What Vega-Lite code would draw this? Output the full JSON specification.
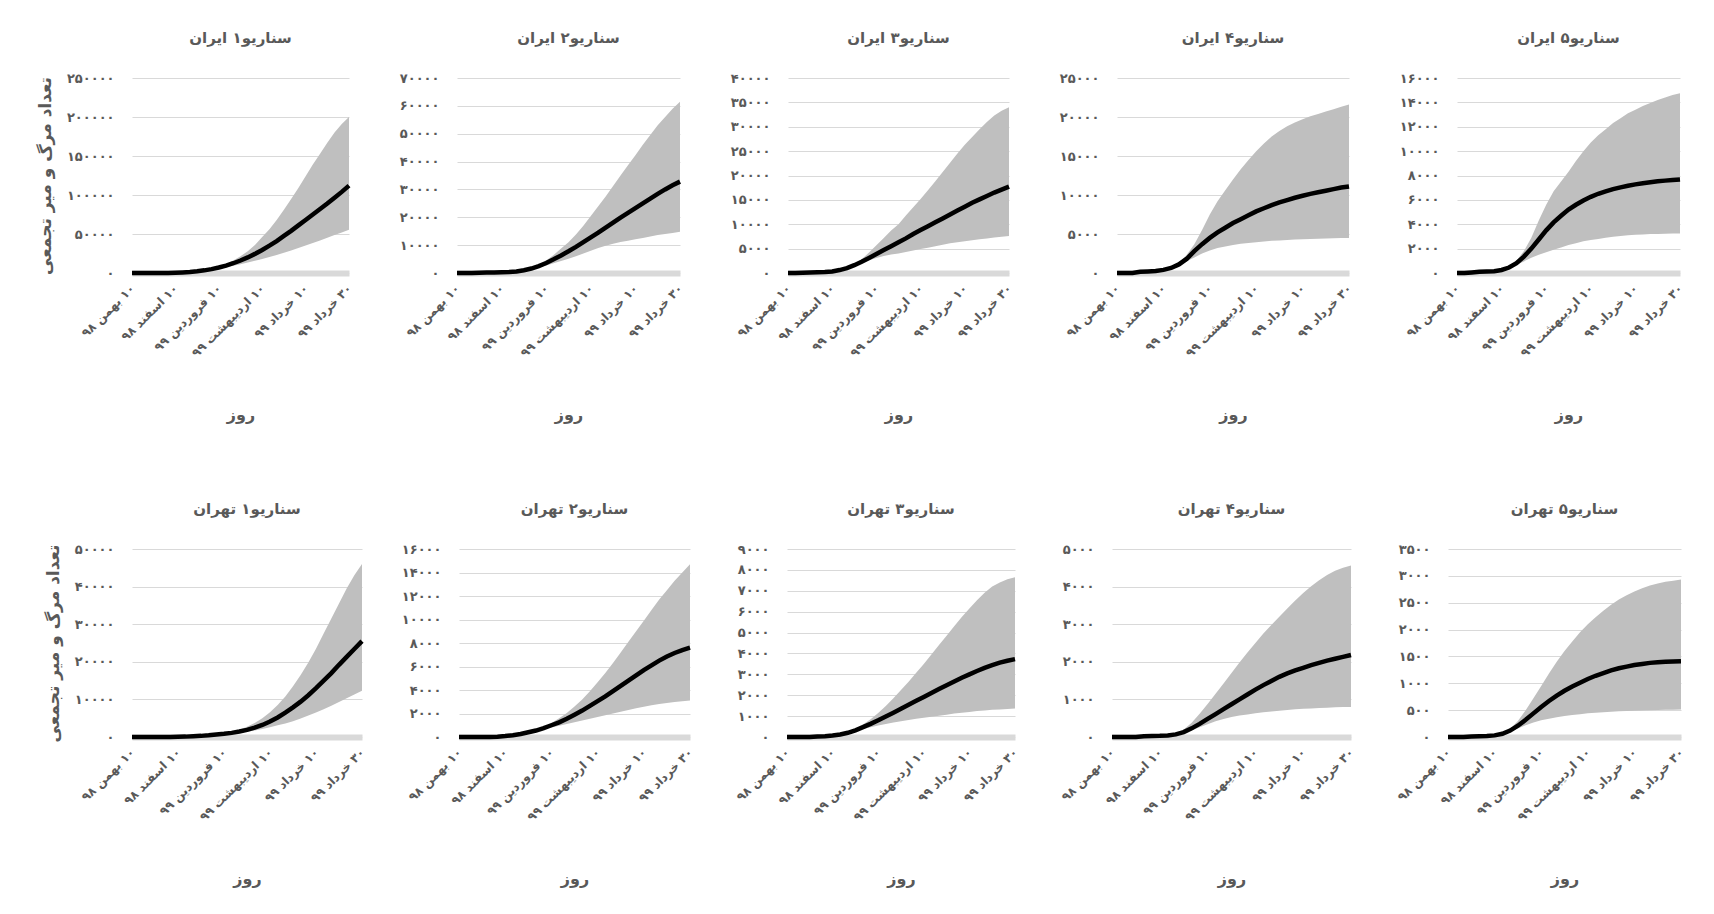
{
"$schema": "https://vega.github.io/schema/vega-lite/v6.json",
"background": "white",
"padding": {"left": 36, "top": 31, "right": 5, "bottom": 5},
"datasets": {"t": [
{"s":"A1","d":0,"m":0,"l":0,"h":0},{"s":"A1","d":5,"m":0,"l":0,"h":0},{"s":"A1","d":10,"m":0,"l":0,"h":0},{"s":"A1","d":15,"m":0,"l":0,"h":0},{"s":"A1","d":20,"m":0,"l":0,"h":0},{"s":"A1","d":25,"m":100,"l":100,"h":100},{"s":"A1","d":30,"m":300,"l":300,"h":320},{"s":"A1","d":35,"m":700,"l":680,"h":740},{"s":"A1","d":40,"m":1300,"l":1200,"h":1400},{"s":"A1","d":45,"m":2200,"l":2000,"h":2400},{"s":"A1","d":50,"m":3400,"l":3000,"h":3700},{"s":"A1","d":55,"m":5000,"l":4300,"h":5500},{"s":"A1","d":60,"m":7000,"l":5800,"h":8000},{"s":"A1","d":65,"m":9500,"l":7500,"h":11500},{"s":"A1","d":70,"m":12500,"l":9300,"h":16000},{"s":"A1","d":75,"m":16000,"l":11300,"h":21500},{"s":"A1","d":80,"m":20000,"l":13400,"h":28000},{"s":"A1","d":85,"m":24500,"l":15600,"h":36000},{"s":"A1","d":90,"m":29500,"l":18000,"h":46000},{"s":"A1","d":95,"m":35000,"l":20500,"h":56000},{"s":"A1","d":100,"m":41000,"l":23200,"h":68000},{"s":"A1","d":105,"m":47500,"l":26000,"h":81000},{"s":"A1","d":110,"m":54000,"l":29000,"h":95000},{"s":"A1","d":115,"m":61000,"l":32000,"h":109000},{"s":"A1","d":120,"m":68000,"l":35200,"h":124000},{"s":"A1","d":125,"m":75000,"l":38500,"h":139000},{"s":"A1","d":130,"m":82000,"l":41800,"h":153000},{"s":"A1","d":135,"m":89000,"l":45200,"h":167000},{"s":"A1","d":140,"m":96500,"l":48600,"h":180000},{"s":"A1","d":145,"m":104000,"l":52000,"h":191000},{"s":"A1","d":150,"m":112000,"l":55500,"h":200000},
{"s":"A2","d":0,"m":0,"l":0,"h":0},{"s":"A2","d":5,"m":0,"l":0,"h":0},{"s":"A2","d":10,"m":0,"l":0,"h":0},{"s":"A2","d":15,"m":100,"l":100,"h":100},{"s":"A2","d":20,"m":150,"l":150,"h":150},{"s":"A2","d":25,"m":200,"l":200,"h":200},{"s":"A2","d":30,"m":250,"l":250,"h":250},{"s":"A2","d":35,"m":350,"l":340,"h":360},{"s":"A2","d":40,"m":550,"l":520,"h":600},{"s":"A2","d":45,"m":1000,"l":900,"h":1100},{"s":"A2","d":50,"m":1600,"l":1400,"h":1900},{"s":"A2","d":55,"m":2500,"l":2000,"h":3000},{"s":"A2","d":60,"m":3600,"l":2700,"h":4500},{"s":"A2","d":65,"m":4900,"l":3500,"h":6500},{"s":"A2","d":70,"m":6300,"l":4300,"h":8800},{"s":"A2","d":75,"m":7800,"l":5100,"h":11000},{"s":"A2","d":80,"m":9400,"l":6000,"h":13800},{"s":"A2","d":85,"m":11100,"l":7000,"h":17000},{"s":"A2","d":90,"m":12800,"l":8000,"h":20500},{"s":"A2","d":95,"m":14500,"l":9000,"h":24000},{"s":"A2","d":100,"m":16300,"l":9800,"h":27500},{"s":"A2","d":105,"m":18100,"l":10500,"h":31200},{"s":"A2","d":110,"m":19900,"l":11100,"h":35000},{"s":"A2","d":115,"m":21600,"l":11600,"h":38700},{"s":"A2","d":120,"m":23300,"l":12100,"h":42300},{"s":"A2","d":125,"m":25000,"l":12600,"h":46000},{"s":"A2","d":130,"m":26700,"l":13100,"h":49500},{"s":"A2","d":135,"m":28400,"l":13600,"h":53000},{"s":"A2","d":140,"m":30000,"l":14000,"h":56000},{"s":"A2","d":145,"m":31500,"l":14400,"h":59000},{"s":"A2","d":150,"m":32800,"l":14800,"h":61500},
{"s":"A3","d":0,"m":0,"l":0,"h":0},{"s":"A3","d":5,"m":0,"l":0,"h":0},{"s":"A3","d":10,"m":50,"l":50,"h":50},{"s":"A3","d":15,"m":100,"l":100,"h":100},{"s":"A3","d":20,"m":150,"l":150,"h":150},{"s":"A3","d":25,"m":200,"l":200,"h":200},{"s":"A3","d":30,"m":300,"l":300,"h":300},{"s":"A3","d":35,"m":600,"l":580,"h":620},{"s":"A3","d":40,"m":1000,"l":900,"h":1100},{"s":"A3","d":45,"m":1600,"l":1300,"h":1800},{"s":"A3","d":50,"m":2300,"l":2000,"h":2800},{"s":"A3","d":55,"m":3100,"l":2600,"h":4200},{"s":"A3","d":60,"m":3900,"l":3100,"h":5700},{"s":"A3","d":65,"m":4700,"l":3500,"h":7200},{"s":"A3","d":70,"m":5500,"l":3800,"h":8700},{"s":"A3","d":75,"m":6300,"l":4000,"h":10000},{"s":"A3","d":80,"m":7100,"l":4300,"h":11800},{"s":"A3","d":85,"m":8000,"l":4600,"h":13500},{"s":"A3","d":90,"m":8800,"l":4900,"h":15200},{"s":"A3","d":95,"m":9600,"l":5200,"h":17000},{"s":"A3","d":100,"m":10400,"l":5500,"h":18800},{"s":"A3","d":105,"m":11200,"l":5800,"h":20700},{"s":"A3","d":110,"m":12000,"l":6100,"h":22600},{"s":"A3","d":115,"m":12800,"l":6300,"h":24500},{"s":"A3","d":120,"m":13600,"l":6500,"h":26300},{"s":"A3","d":125,"m":14400,"l":6700,"h":27900},{"s":"A3","d":130,"m":15100,"l":6900,"h":29500},{"s":"A3","d":135,"m":15800,"l":7100,"h":31000},{"s":"A3","d":140,"m":16500,"l":7300,"h":32300},{"s":"A3","d":145,"m":17100,"l":7450,"h":33300},{"s":"A3","d":150,"m":17700,"l":7600,"h":34000},
{"s":"A4","d":0,"m":0,"l":0,"h":0},{"s":"A4","d":5,"m":0,"l":0,"h":0},{"s":"A4","d":10,"m":0,"l":0,"h":0},{"s":"A4","d":15,"m":150,"l":150,"h":150},{"s":"A4","d":20,"m":200,"l":200,"h":200},{"s":"A4","d":25,"m":250,"l":250,"h":250},{"s":"A4","d":30,"m":400,"l":400,"h":400},{"s":"A4","d":35,"m":650,"l":620,"h":700},{"s":"A4","d":40,"m":1100,"l":1000,"h":1300},{"s":"A4","d":45,"m":1800,"l":1500,"h":2300},{"s":"A4","d":50,"m":2800,"l":2000,"h":3700},{"s":"A4","d":55,"m":3700,"l":2500,"h":5500},{"s":"A4","d":60,"m":4500,"l":2900,"h":7500},{"s":"A4","d":65,"m":5200,"l":3200,"h":9200},{"s":"A4","d":70,"m":5800,"l":3400,"h":10600},{"s":"A4","d":75,"m":6400,"l":3600,"h":12000},{"s":"A4","d":80,"m":6900,"l":3750,"h":13300},{"s":"A4","d":85,"m":7400,"l":3850,"h":14500},{"s":"A4","d":90,"m":7900,"l":3950,"h":15600},{"s":"A4","d":95,"m":8300,"l":4050,"h":16600},{"s":"A4","d":100,"m":8700,"l":4120,"h":17500},{"s":"A4","d":105,"m":9050,"l":4180,"h":18200},{"s":"A4","d":110,"m":9350,"l":4240,"h":18800},{"s":"A4","d":115,"m":9650,"l":4290,"h":19300},{"s":"A4","d":120,"m":9900,"l":4330,"h":19700},{"s":"A4","d":125,"m":10150,"l":4370,"h":20100},{"s":"A4","d":130,"m":10350,"l":4400,"h":20400},{"s":"A4","d":135,"m":10550,"l":4430,"h":20700},{"s":"A4","d":140,"m":10750,"l":4460,"h":21000},{"s":"A4","d":145,"m":10950,"l":4480,"h":21300},{"s":"A4","d":150,"m":11100,"l":4500,"h":21600},
{"s":"A5","d":0,"m":0,"l":0,"h":0},{"s":"A5","d":5,"m":0,"l":0,"h":0},{"s":"A5","d":10,"m":50,"l":50,"h":50},{"s":"A5","d":15,"m":100,"l":100,"h":100},{"s":"A5","d":20,"m":120,"l":120,"h":120},{"s":"A5","d":25,"m":150,"l":150,"h":150},{"s":"A5","d":30,"m":250,"l":250,"h":250},{"s":"A5","d":35,"m":450,"l":400,"h":500},{"s":"A5","d":40,"m":800,"l":650,"h":1000},{"s":"A5","d":45,"m":1350,"l":950,"h":1800},{"s":"A5","d":50,"m":2000,"l":1250,"h":2900},{"s":"A5","d":55,"m":2750,"l":1500,"h":4300},{"s":"A5","d":60,"m":3500,"l":1700,"h":5600},{"s":"A5","d":65,"m":4150,"l":1900,"h":6700},{"s":"A5","d":70,"m":4700,"l":2100,"h":7500},{"s":"A5","d":75,"m":5200,"l":2300,"h":8300},{"s":"A5","d":80,"m":5600,"l":2450,"h":9200},{"s":"A5","d":85,"m":5950,"l":2600,"h":10000},{"s":"A5","d":90,"m":6250,"l":2700,"h":10700},{"s":"A5","d":95,"m":6500,"l":2800,"h":11300},{"s":"A5","d":100,"m":6700,"l":2900,"h":11800},{"s":"A5","d":105,"m":6880,"l":2980,"h":12300},{"s":"A5","d":110,"m":7030,"l":3040,"h":12700},{"s":"A5","d":115,"m":7160,"l":3090,"h":13100},{"s":"A5","d":120,"m":7270,"l":3130,"h":13400},{"s":"A5","d":125,"m":7370,"l":3160,"h":13700},{"s":"A5","d":130,"m":7450,"l":3190,"h":13950},{"s":"A5","d":135,"m":7520,"l":3210,"h":14200},{"s":"A5","d":140,"m":7580,"l":3230,"h":14400},{"s":"A5","d":145,"m":7630,"l":3240,"h":14600},{"s":"A5","d":150,"m":7680,"l":3250,"h":14750},
{"s":"T1","d":0,"m":0,"l":0,"h":0},{"s":"T1","d":5,"m":0,"l":0,"h":0},{"s":"T1","d":10,"m":0,"l":0,"h":0},{"s":"T1","d":15,"m":0,"l":0,"h":0},{"s":"T1","d":20,"m":0,"l":0,"h":0},{"s":"T1","d":25,"m":0,"l":0,"h":0},{"s":"T1","d":30,"m":50,"l":50,"h":55},{"s":"T1","d":35,"m":100,"l":100,"h":110},{"s":"T1","d":40,"m":200,"l":190,"h":220},{"s":"T1","d":45,"m":300,"l":280,"h":330},{"s":"T1","d":50,"m":450,"l":420,"h":500},{"s":"T1","d":55,"m":650,"l":600,"h":720},{"s":"T1","d":60,"m":850,"l":780,"h":950},{"s":"T1","d":65,"m":1100,"l":900,"h":1300},{"s":"T1","d":70,"m":1450,"l":1100,"h":1900},{"s":"T1","d":75,"m":1900,"l":1400,"h":2700},{"s":"T1","d":80,"m":2500,"l":1700,"h":3700},{"s":"T1","d":85,"m":3200,"l":2100,"h":5000},{"s":"T1","d":90,"m":4100,"l":2600,"h":6600},{"s":"T1","d":95,"m":5200,"l":3100,"h":8500},{"s":"T1","d":100,"m":6500,"l":3600,"h":10800},{"s":"T1","d":105,"m":7900,"l":4200,"h":13500},{"s":"T1","d":110,"m":9400,"l":4900,"h":16500},{"s":"T1","d":115,"m":11100,"l":5700,"h":19800},{"s":"T1","d":120,"m":13000,"l":6500,"h":23500},{"s":"T1","d":125,"m":15000,"l":7400,"h":27500},{"s":"T1","d":130,"m":17000,"l":8300,"h":31500},{"s":"T1","d":135,"m":19200,"l":9300,"h":35500},{"s":"T1","d":140,"m":21300,"l":10300,"h":39500},{"s":"T1","d":145,"m":23400,"l":11300,"h":43000},{"s":"T1","d":150,"m":25500,"l":12300,"h":46000},
{"s":"T2","d":0,"m":0,"l":0,"h":0},{"s":"T2","d":5,"m":0,"l":0,"h":0},{"s":"T2","d":10,"m":0,"l":0,"h":0},{"s":"T2","d":15,"m":0,"l":0,"h":0},{"s":"T2","d":20,"m":0,"l":0,"h":0},{"s":"T2","d":25,"m":30,"l":30,"h":30},{"s":"T2","d":30,"m":80,"l":80,"h":80},{"s":"T2","d":35,"m":150,"l":150,"h":150},{"s":"T2","d":40,"m":250,"l":240,"h":260},{"s":"T2","d":45,"m":400,"l":380,"h":430},{"s":"T2","d":50,"m":550,"l":500,"h":620},{"s":"T2","d":55,"m":750,"l":650,"h":850},{"s":"T2","d":60,"m":1000,"l":800,"h":1200},{"s":"T2","d":65,"m":1250,"l":950,"h":1600},{"s":"T2","d":70,"m":1550,"l":1100,"h":2050},{"s":"T2","d":75,"m":1900,"l":1250,"h":2600},{"s":"T2","d":80,"m":2250,"l":1400,"h":3200},{"s":"T2","d":85,"m":2650,"l":1550,"h":3900},{"s":"T2","d":90,"m":3050,"l":1700,"h":4650},{"s":"T2","d":95,"m":3450,"l":1850,"h":5450},{"s":"T2","d":100,"m":3900,"l":2000,"h":6300},{"s":"T2","d":105,"m":4350,"l":2150,"h":7200},{"s":"T2","d":110,"m":4800,"l":2300,"h":8100},{"s":"T2","d":115,"m":5250,"l":2450,"h":9000},{"s":"T2","d":120,"m":5700,"l":2580,"h":9900},{"s":"T2","d":125,"m":6100,"l":2700,"h":10800},{"s":"T2","d":130,"m":6500,"l":2800,"h":11700},{"s":"T2","d":135,"m":6850,"l":2900,"h":12500},{"s":"T2","d":140,"m":7150,"l":2980,"h":13300},{"s":"T2","d":145,"m":7400,"l":3050,"h":14000},{"s":"T2","d":150,"m":7600,"l":3100,"h":14700},
{"s":"T3","d":0,"m":0,"l":0,"h":0},{"s":"T3","d":5,"m":0,"l":0,"h":0},{"s":"T3","d":10,"m":0,"l":0,"h":0},{"s":"T3","d":15,"m":0,"l":0,"h":0},{"s":"T3","d":20,"m":20,"l":20,"h":20},{"s":"T3","d":25,"m":40,"l":40,"h":40},{"s":"T3","d":30,"m":70,"l":70,"h":70},{"s":"T3","d":35,"m":120,"l":115,"h":125},{"s":"T3","d":40,"m":200,"l":180,"h":230},{"s":"T3","d":45,"m":320,"l":280,"h":380},{"s":"T3","d":50,"m":470,"l":380,"h":600},{"s":"T3","d":55,"m":630,"l":470,"h":850},{"s":"T3","d":60,"m":800,"l":550,"h":1150},{"s":"T3","d":65,"m":980,"l":620,"h":1480},{"s":"T3","d":70,"m":1160,"l":690,"h":1850},{"s":"T3","d":75,"m":1350,"l":750,"h":2250},{"s":"T3","d":80,"m":1540,"l":810,"h":2650},{"s":"T3","d":85,"m":1730,"l":870,"h":3070},{"s":"T3","d":90,"m":1920,"l":920,"h":3500},{"s":"T3","d":95,"m":2110,"l":970,"h":3950},{"s":"T3","d":100,"m":2300,"l":1020,"h":4400},{"s":"T3","d":105,"m":2480,"l":1070,"h":4850},{"s":"T3","d":110,"m":2660,"l":1120,"h":5300},{"s":"T3","d":115,"m":2840,"l":1160,"h":5750},{"s":"T3","d":120,"m":3000,"l":1200,"h":6150},{"s":"T3","d":125,"m":3160,"l":1240,"h":6550},{"s":"T3","d":130,"m":3310,"l":1270,"h":6900},{"s":"T3","d":135,"m":3440,"l":1300,"h":7200},{"s":"T3","d":140,"m":3560,"l":1320,"h":7400},{"s":"T3","d":145,"m":3650,"l":1340,"h":7550},{"s":"T3","d":150,"m":3730,"l":1360,"h":7650},
{"s":"T4","d":0,"m":0,"l":0,"h":0},{"s":"T4","d":5,"m":0,"l":0,"h":0},{"s":"T4","d":10,"m":0,"l":0,"h":0},{"s":"T4","d":15,"m":0,"l":0,"h":0},{"s":"T4","d":20,"m":20,"l":20,"h":20},{"s":"T4","d":25,"m":25,"l":25,"h":25},{"s":"T4","d":30,"m":30,"l":30,"h":30},{"s":"T4","d":35,"m":40,"l":40,"h":40},{"s":"T4","d":40,"m":70,"l":65,"h":80},{"s":"T4","d":45,"m":130,"l":110,"h":200},{"s":"T4","d":50,"m":230,"l":180,"h":380},{"s":"T4","d":55,"m":350,"l":260,"h":620},{"s":"T4","d":60,"m":480,"l":340,"h":880},{"s":"T4","d":65,"m":610,"l":420,"h":1150},{"s":"T4","d":70,"m":740,"l":480,"h":1420},{"s":"T4","d":75,"m":870,"l":530,"h":1700},{"s":"T4","d":80,"m":1000,"l":570,"h":1980},{"s":"T4","d":85,"m":1130,"l":600,"h":2250},{"s":"T4","d":90,"m":1260,"l":630,"h":2500},{"s":"T4","d":95,"m":1380,"l":660,"h":2750},{"s":"T4","d":100,"m":1490,"l":680,"h":2980},{"s":"T4","d":105,"m":1600,"l":700,"h":3200},{"s":"T4","d":110,"m":1690,"l":720,"h":3420},{"s":"T4","d":115,"m":1770,"l":735,"h":3630},{"s":"T4","d":120,"m":1840,"l":750,"h":3830},{"s":"T4","d":125,"m":1910,"l":760,"h":4010},{"s":"T4","d":130,"m":1970,"l":770,"h":4170},{"s":"T4","d":135,"m":2030,"l":780,"h":4310},{"s":"T4","d":140,"m":2080,"l":790,"h":4420},{"s":"T4","d":145,"m":2130,"l":795,"h":4500},{"s":"T4","d":150,"m":2180,"l":800,"h":4560},
{"s":"T5","d":0,"m":0,"l":0,"h":0},{"s":"T5","d":5,"m":0,"l":0,"h":0},{"s":"T5","d":10,"m":0,"l":0,"h":0},{"s":"T5","d":15,"m":10,"l":10,"h":10},{"s":"T5","d":20,"m":15,"l":15,"h":15},{"s":"T5","d":25,"m":20,"l":20,"h":20},{"s":"T5","d":30,"m":30,"l":30,"h":30},{"s":"T5","d":35,"m":60,"l":55,"h":65},{"s":"T5","d":40,"m":120,"l":100,"h":150},{"s":"T5","d":45,"m":210,"l":160,"h":300},{"s":"T5","d":50,"m":320,"l":220,"h":500},{"s":"T5","d":55,"m":440,"l":270,"h":720},{"s":"T5","d":60,"m":560,"l":310,"h":950},{"s":"T5","d":65,"m":670,"l":340,"h":1180},{"s":"T5","d":70,"m":770,"l":370,"h":1400},{"s":"T5","d":75,"m":860,"l":390,"h":1600},{"s":"T5","d":80,"m":940,"l":410,"h":1780},{"s":"T5","d":85,"m":1010,"l":425,"h":1950},{"s":"T5","d":90,"m":1080,"l":440,"h":2100},{"s":"T5","d":95,"m":1140,"l":450,"h":2230},{"s":"T5","d":100,"m":1190,"l":460,"h":2350},{"s":"T5","d":105,"m":1240,"l":470,"h":2460},{"s":"T5","d":110,"m":1280,"l":478,"h":2560},{"s":"T5","d":115,"m":1310,"l":485,"h":2640},{"s":"T5","d":120,"m":1340,"l":490,"h":2710},{"s":"T5","d":125,"m":1360,"l":495,"h":2770},{"s":"T5","d":130,"m":1380,"l":500,"h":2820},{"s":"T5","d":135,"m":1390,"l":503,"h":2860},{"s":"T5","d":140,"m":1400,"l":505,"h":2890},{"s":"T5","d":145,"m":1405,"l":507,"h":2910},{"s":"T5","d":150,"m":1410,"l":510,"h":2930}
]},
"spacing": 471,
"bounds": "flush",
"vconcat": [
{"spacing": 108, "bounds": "flush", "hconcat": [
{"title": "سناریو۱ ایران", "width": 217, "height": 195, "data": {"name": "t"}, "transform": [{"filter": "datum.s=='A1'"}],
 "encoding": {"x": {"field": "d", "type": "quantitative", "scale": {"domain": [0, 150], "nice": false}, "axis": {"title": "روز", "tickCount": 20, "values": [0, 30, 60, 90, 120, 150], "labelExpr": "datum.value==0?'\u200f۱۰ بهمن ۹۸':datum.value==30?'\u200f۱۰ اسفند ۹۸':datum.value==60?'\u200f۱۰ فروردین ۹۹':datum.value==90?'\u200f۱۰ اردیبهشت ۹۹':datum.value==120?'\u200f۱۰ خرداد ۹۹':'\u200f۳۰ خرداد ۹۹'"}}},
 "layer": [
  {"mark": {"type": "area", "color": "#bfbfbf"}, "encoding": {"y": {"field": "l", "type": "quantitative", "scale": {"domain": [0, 250000], "nice": false}, "axis": {"tickCount": 20, "values": [0, 50000, 100000, 150000, 200000, 250000], "format": "d", "title": "تعداد مرگ و میر تجمعی", "labelExpr": "replace(replace(replace(replace(replace(replace(replace(replace(replace(replace(datum.label,regexp('0','g'),'۰'),regexp('1','g'),'۱'),regexp('2','g'),'۲'),regexp('3','g'),'۳'),regexp('4','g'),'۴'),regexp('5','g'),'۵'),regexp('6','g'),'۶'),regexp('7','g'),'۷'),regexp('8','g'),'۸'),regexp('9','g'),'۹')"}}, "y2": {"field": "h"}}},
  {"mark": {"type": "line", "color": "black", "strokeWidth": 4.5}, "encoding": {"y": {"field": "m", "type": "quantitative"}}}
 ]},
{"title": "سناریو۲ ایران", "width": 223, "height": 195, "data": {"name": "t"}, "transform": [{"filter": "datum.s=='A2'"}],
 "encoding": {"x": {"field": "d", "type": "quantitative", "scale": {"domain": [0, 150], "nice": false}, "axis": {"title": "روز", "tickCount": 20, "values": [0, 30, 60, 90, 120, 150], "labelExpr": "datum.value==0?'\u200f۱۰ بهمن ۹۸':datum.value==30?'\u200f۱۰ اسفند ۹۸':datum.value==60?'\u200f۱۰ فروردین ۹۹':datum.value==90?'\u200f۱۰ اردیبهشت ۹۹':datum.value==120?'\u200f۱۰ خرداد ۹۹':'\u200f۳۰ خرداد ۹۹'"}}},
 "layer": [
  {"mark": {"type": "area", "color": "#bfbfbf"}, "encoding": {"y": {"field": "l", "type": "quantitative", "scale": {"domain": [0, 70000], "nice": false}, "axis": {"tickCount": 20, "values": [0, 10000, 20000, 30000, 40000, 50000, 60000, 70000], "format": "d", "title": null, "labelExpr": "replace(replace(replace(replace(replace(replace(replace(replace(replace(replace(datum.label,regexp('0','g'),'۰'),regexp('1','g'),'۱'),regexp('2','g'),'۲'),regexp('3','g'),'۳'),regexp('4','g'),'۴'),regexp('5','g'),'۵'),regexp('6','g'),'۶'),regexp('7','g'),'۷'),regexp('8','g'),'۸'),regexp('9','g'),'۹')"}}, "y2": {"field": "h"}}},
  {"mark": {"type": "line", "color": "black", "strokeWidth": 4.5}, "encoding": {"y": {"field": "m", "type": "quantitative"}}}
 ]},
{"title": "سناریو۳ ایران", "width": 221, "height": 195, "data": {"name": "t"}, "transform": [{"filter": "datum.s=='A3'"}],
 "encoding": {"x": {"field": "d", "type": "quantitative", "scale": {"domain": [0, 150], "nice": false}, "axis": {"title": "روز", "tickCount": 20, "values": [0, 30, 60, 90, 120, 150], "labelExpr": "datum.value==0?'\u200f۱۰ بهمن ۹۸':datum.value==30?'\u200f۱۰ اسفند ۹۸':datum.value==60?'\u200f۱۰ فروردین ۹۹':datum.value==90?'\u200f۱۰ اردیبهشت ۹۹':datum.value==120?'\u200f۱۰ خرداد ۹۹':'\u200f۳۰ خرداد ۹۹'"}}},
 "layer": [
  {"mark": {"type": "area", "color": "#bfbfbf"}, "encoding": {"y": {"field": "l", "type": "quantitative", "scale": {"domain": [0, 40000], "nice": false}, "axis": {"tickCount": 20, "values": [0, 5000, 10000, 15000, 20000, 25000, 30000, 35000, 40000], "format": "d", "title": null, "labelExpr": "replace(replace(replace(replace(replace(replace(replace(replace(replace(replace(datum.label,regexp('0','g'),'۰'),regexp('1','g'),'۱'),regexp('2','g'),'۲'),regexp('3','g'),'۳'),regexp('4','g'),'۴'),regexp('5','g'),'۵'),regexp('6','g'),'۶'),regexp('7','g'),'۷'),regexp('8','g'),'۸'),regexp('9','g'),'۹')"}}, "y2": {"field": "h"}}},
  {"mark": {"type": "line", "color": "black", "strokeWidth": 4.5}, "encoding": {"y": {"field": "m", "type": "quantitative"}}}
 ]},
{"title": "سناریو۴ ایران", "width": 232, "height": 195, "data": {"name": "t"}, "transform": [{"filter": "datum.s=='A4'"}],
 "encoding": {"x": {"field": "d", "type": "quantitative", "scale": {"domain": [0, 150], "nice": false}, "axis": {"title": "روز", "tickCount": 20, "values": [0, 30, 60, 90, 120, 150], "labelExpr": "datum.value==0?'\u200f۱۰ بهمن ۹۸':datum.value==30?'\u200f۱۰ اسفند ۹۸':datum.value==60?'\u200f۱۰ فروردین ۹۹':datum.value==90?'\u200f۱۰ اردیبهشت ۹۹':datum.value==120?'\u200f۱۰ خرداد ۹۹':'\u200f۳۰ خرداد ۹۹'"}}},
 "layer": [
  {"mark": {"type": "area", "color": "#bfbfbf"}, "encoding": {"y": {"field": "l", "type": "quantitative", "scale": {"domain": [0, 25000], "nice": false}, "axis": {"tickCount": 20, "values": [0, 5000, 10000, 15000, 20000, 25000], "format": "d", "title": null, "labelExpr": "replace(replace(replace(replace(replace(replace(replace(replace(replace(replace(datum.label,regexp('0','g'),'۰'),regexp('1','g'),'۱'),regexp('2','g'),'۲'),regexp('3','g'),'۳'),regexp('4','g'),'۴'),regexp('5','g'),'۵'),regexp('6','g'),'۶'),regexp('7','g'),'۷'),regexp('8','g'),'۸'),regexp('9','g'),'۹')"}}, "y2": {"field": "h"}}},
  {"mark": {"type": "line", "color": "black", "strokeWidth": 4.5}, "encoding": {"y": {"field": "m", "type": "quantitative"}}}
 ]},
{"title": "سناریو۵ ایران", "width": 223, "height": 195, "data": {"name": "t"}, "transform": [{"filter": "datum.s=='A5'"}],
 "encoding": {"x": {"field": "d", "type": "quantitative", "scale": {"domain": [0, 150], "nice": false}, "axis": {"title": "روز", "tickCount": 20, "values": [0, 30, 60, 90, 120, 150], "labelExpr": "datum.value==0?'\u200f۱۰ بهمن ۹۸':datum.value==30?'\u200f۱۰ اسفند ۹۸':datum.value==60?'\u200f۱۰ فروردین ۹۹':datum.value==90?'\u200f۱۰ اردیبهشت ۹۹':datum.value==120?'\u200f۱۰ خرداد ۹۹':'\u200f۳۰ خرداد ۹۹'"}}},
 "layer": [
  {"mark": {"type": "area", "color": "#bfbfbf"}, "encoding": {"y": {"field": "l", "type": "quantitative", "scale": {"domain": [0, 16000], "nice": false}, "axis": {"tickCount": 20, "values": [0, 2000, 4000, 6000, 8000, 10000, 12000, 14000, 16000], "format": "d", "title": null, "labelExpr": "replace(replace(replace(replace(replace(replace(replace(replace(replace(replace(datum.label,regexp('0','g'),'۰'),regexp('1','g'),'۱'),regexp('2','g'),'۲'),regexp('3','g'),'۳'),regexp('4','g'),'۴'),regexp('5','g'),'۵'),regexp('6','g'),'۶'),regexp('7','g'),'۷'),regexp('8','g'),'۸'),regexp('9','g'),'۹')"}}, "y2": {"field": "h"}}},
  {"mark": {"type": "line", "color": "black", "strokeWidth": 4.5}, "encoding": {"y": {"field": "m", "type": "quantitative"}}}
 ]}
]},
{"spacing": 97, "bounds": "flush", "hconcat": [
{"title": "سناریو۱ تهران", "width": 230, "height": 188, "data": {"name": "t"}, "transform": [{"filter": "datum.s=='T1'"}],
 "encoding": {"x": {"field": "d", "type": "quantitative", "scale": {"domain": [0, 150], "nice": false}, "axis": {"title": "روز", "tickCount": 20, "values": [0, 30, 60, 90, 120, 150], "labelExpr": "datum.value==0?'\u200f۱۰ بهمن ۹۸':datum.value==30?'\u200f۱۰ اسفند ۹۸':datum.value==60?'\u200f۱۰ فروردین ۹۹':datum.value==90?'\u200f۱۰ اردیبهشت ۹۹':datum.value==120?'\u200f۱۰ خرداد ۹۹':'\u200f۳۰ خرداد ۹۹'"}}},
 "layer": [
  {"mark": {"type": "area", "color": "#bfbfbf"}, "encoding": {"y": {"field": "l", "type": "quantitative", "scale": {"domain": [0, 50000], "nice": false}, "axis": {"tickCount": 20, "values": [0, 10000, 20000, 30000, 40000, 50000], "format": "d", "title": "تعداد مرگ و میر تجمعی", "labelExpr": "replace(replace(replace(replace(replace(replace(replace(replace(replace(replace(datum.label,regexp('0','g'),'۰'),regexp('1','g'),'۱'),regexp('2','g'),'۲'),regexp('3','g'),'۳'),regexp('4','g'),'۴'),regexp('5','g'),'۵'),regexp('6','g'),'۶'),regexp('7','g'),'۷'),regexp('8','g'),'۸'),regexp('9','g'),'۹')"}}, "y2": {"field": "h"}}},
  {"mark": {"type": "line", "color": "black", "strokeWidth": 4.5}, "encoding": {"y": {"field": "m", "type": "quantitative"}}}
 ]},
{"title": "سناریو۲ تهران", "width": 231, "height": 188, "data": {"name": "t"}, "transform": [{"filter": "datum.s=='T2'"}],
 "encoding": {"x": {"field": "d", "type": "quantitative", "scale": {"domain": [0, 150], "nice": false}, "axis": {"title": "روز", "tickCount": 20, "values": [0, 30, 60, 90, 120, 150], "labelExpr": "datum.value==0?'\u200f۱۰ بهمن ۹۸':datum.value==30?'\u200f۱۰ اسفند ۹۸':datum.value==60?'\u200f۱۰ فروردین ۹۹':datum.value==90?'\u200f۱۰ اردیبهشت ۹۹':datum.value==120?'\u200f۱۰ خرداد ۹۹':'\u200f۳۰ خرداد ۹۹'"}}},
 "layer": [
  {"mark": {"type": "area", "color": "#bfbfbf"}, "encoding": {"y": {"field": "l", "type": "quantitative", "scale": {"domain": [0, 16000], "nice": false}, "axis": {"tickCount": 20, "values": [0, 2000, 4000, 6000, 8000, 10000, 12000, 14000, 16000], "format": "d", "title": null, "labelExpr": "replace(replace(replace(replace(replace(replace(replace(replace(replace(replace(datum.label,regexp('0','g'),'۰'),regexp('1','g'),'۱'),regexp('2','g'),'۲'),regexp('3','g'),'۳'),regexp('4','g'),'۴'),regexp('5','g'),'۵'),regexp('6','g'),'۶'),regexp('7','g'),'۷'),regexp('8','g'),'۸'),regexp('9','g'),'۹')"}}, "y2": {"field": "h"}}},
  {"mark": {"type": "line", "color": "black", "strokeWidth": 4.5}, "encoding": {"y": {"field": "m", "type": "quantitative"}}}
 ]},
{"title": "سناریو۳ تهران", "width": 228, "height": 188, "data": {"name": "t"}, "transform": [{"filter": "datum.s=='T3'"}],
 "encoding": {"x": {"field": "d", "type": "quantitative", "scale": {"domain": [0, 150], "nice": false}, "axis": {"title": "روز", "tickCount": 20, "values": [0, 30, 60, 90, 120, 150], "labelExpr": "datum.value==0?'\u200f۱۰ بهمن ۹۸':datum.value==30?'\u200f۱۰ اسفند ۹۸':datum.value==60?'\u200f۱۰ فروردین ۹۹':datum.value==90?'\u200f۱۰ اردیبهشت ۹۹':datum.value==120?'\u200f۱۰ خرداد ۹۹':'\u200f۳۰ خرداد ۹۹'"}}},
 "layer": [
  {"mark": {"type": "area", "color": "#bfbfbf"}, "encoding": {"y": {"field": "l", "type": "quantitative", "scale": {"domain": [0, 9000], "nice": false}, "axis": {"tickCount": 20, "values": [0, 1000, 2000, 3000, 4000, 5000, 6000, 7000, 8000, 9000], "format": "d", "title": null, "labelExpr": "replace(replace(replace(replace(replace(replace(replace(replace(replace(replace(datum.label,regexp('0','g'),'۰'),regexp('1','g'),'۱'),regexp('2','g'),'۲'),regexp('3','g'),'۳'),regexp('4','g'),'۴'),regexp('5','g'),'۵'),regexp('6','g'),'۶'),regexp('7','g'),'۷'),regexp('8','g'),'۸'),regexp('9','g'),'۹')"}}, "y2": {"field": "h"}}},
  {"mark": {"type": "line", "color": "black", "strokeWidth": 4.5}, "encoding": {"y": {"field": "m", "type": "quantitative"}}}
 ]},
{"title": "سناریو۴ تهران", "width": 239, "height": 188, "data": {"name": "t"}, "transform": [{"filter": "datum.s=='T4'"}],
 "encoding": {"x": {"field": "d", "type": "quantitative", "scale": {"domain": [0, 150], "nice": false}, "axis": {"title": "روز", "tickCount": 20, "values": [0, 30, 60, 90, 120, 150], "labelExpr": "datum.value==0?'\u200f۱۰ بهمن ۹۸':datum.value==30?'\u200f۱۰ اسفند ۹۸':datum.value==60?'\u200f۱۰ فروردین ۹۹':datum.value==90?'\u200f۱۰ اردیبهشت ۹۹':datum.value==120?'\u200f۱۰ خرداد ۹۹':'\u200f۳۰ خرداد ۹۹'"}}},
 "layer": [
  {"mark": {"type": "area", "color": "#bfbfbf"}, "encoding": {"y": {"field": "l", "type": "quantitative", "scale": {"domain": [0, 5000], "nice": false}, "axis": {"tickCount": 20, "values": [0, 1000, 2000, 3000, 4000, 5000], "format": "d", "title": null, "labelExpr": "replace(replace(replace(replace(replace(replace(replace(replace(replace(replace(datum.label,regexp('0','g'),'۰'),regexp('1','g'),'۱'),regexp('2','g'),'۲'),regexp('3','g'),'۳'),regexp('4','g'),'۴'),regexp('5','g'),'۵'),regexp('6','g'),'۶'),regexp('7','g'),'۷'),regexp('8','g'),'۸'),regexp('9','g'),'۹')"}}, "y2": {"field": "h"}}},
  {"mark": {"type": "line", "color": "black", "strokeWidth": 4.5}, "encoding": {"y": {"field": "m", "type": "quantitative"}}}
 ]},
{"title": "سناریو۵ تهران", "width": 233, "height": 188, "data": {"name": "t"}, "transform": [{"filter": "datum.s=='T5'"}],
 "encoding": {"x": {"field": "d", "type": "quantitative", "scale": {"domain": [0, 150], "nice": false}, "axis": {"title": "روز", "tickCount": 20, "values": [0, 30, 60, 90, 120, 150], "labelExpr": "datum.value==0?'\u200f۱۰ بهمن ۹۸':datum.value==30?'\u200f۱۰ اسفند ۹۸':datum.value==60?'\u200f۱۰ فروردین ۹۹':datum.value==90?'\u200f۱۰ اردیبهشت ۹۹':datum.value==120?'\u200f۱۰ خرداد ۹۹':'\u200f۳۰ خرداد ۹۹'"}}},
 "layer": [
  {"mark": {"type": "area", "color": "#bfbfbf"}, "encoding": {"y": {"field": "l", "type": "quantitative", "scale": {"domain": [0, 3500], "nice": false}, "axis": {"tickCount": 20, "values": [0, 500, 1000, 1500, 2000, 2500, 3000, 3500], "format": "d", "title": null, "labelExpr": "replace(replace(replace(replace(replace(replace(replace(replace(replace(replace(datum.label,regexp('0','g'),'۰'),regexp('1','g'),'۱'),regexp('2','g'),'۲'),regexp('3','g'),'۳'),regexp('4','g'),'۴'),regexp('5','g'),'۵'),regexp('6','g'),'۶'),regexp('7','g'),'۷'),regexp('8','g'),'۸'),regexp('9','g'),'۹')"}}, "y2": {"field": "h"}}},
  {"mark": {"type": "line", "color": "black", "strokeWidth": 4.5}, "encoding": {"y": {"field": "m", "type": "quantitative"}}}
 ]}
]}
],
"config": {
 "font": "DejaVu Sans",
 "view": {"stroke": null},
 "title": {"fontSize": 15, "fontWeight": "bold", "color": "#595959", "offset": 26, "anchor": "middle"},
 "axisY": {"grid": true, "gridColor": "#d9d9d9", "domain": false, "ticks": false, "labelColor": "#595959", "labelFontSize": 13, "labelFontWeight": "bold", "labelPadding": 18, "labelOverlap": false, "titleColor": "#595959", "titleFontSize": 17, "titleFontWeight": "bold", "titlePadding": 12},
 "axisX": {"grid": false, "domainColor": "#d9d9d9", "domainWidth": 6, "tickColor": "white", "tickWidth": 1.5, "tickSize": 3, "labelAngle": -45, "labelAlign": "right", "labelBaseline": "middle", "labelFlush": false, "labelOverlap": false, "labelColor": "#595959", "labelFontSize": 12, "labelFontWeight": "bold", "labelPadding": 10, "titleColor": "#595959", "titleFontSize": 16, "titleFontWeight": "bold", "titlePadding": 48}
}
}
